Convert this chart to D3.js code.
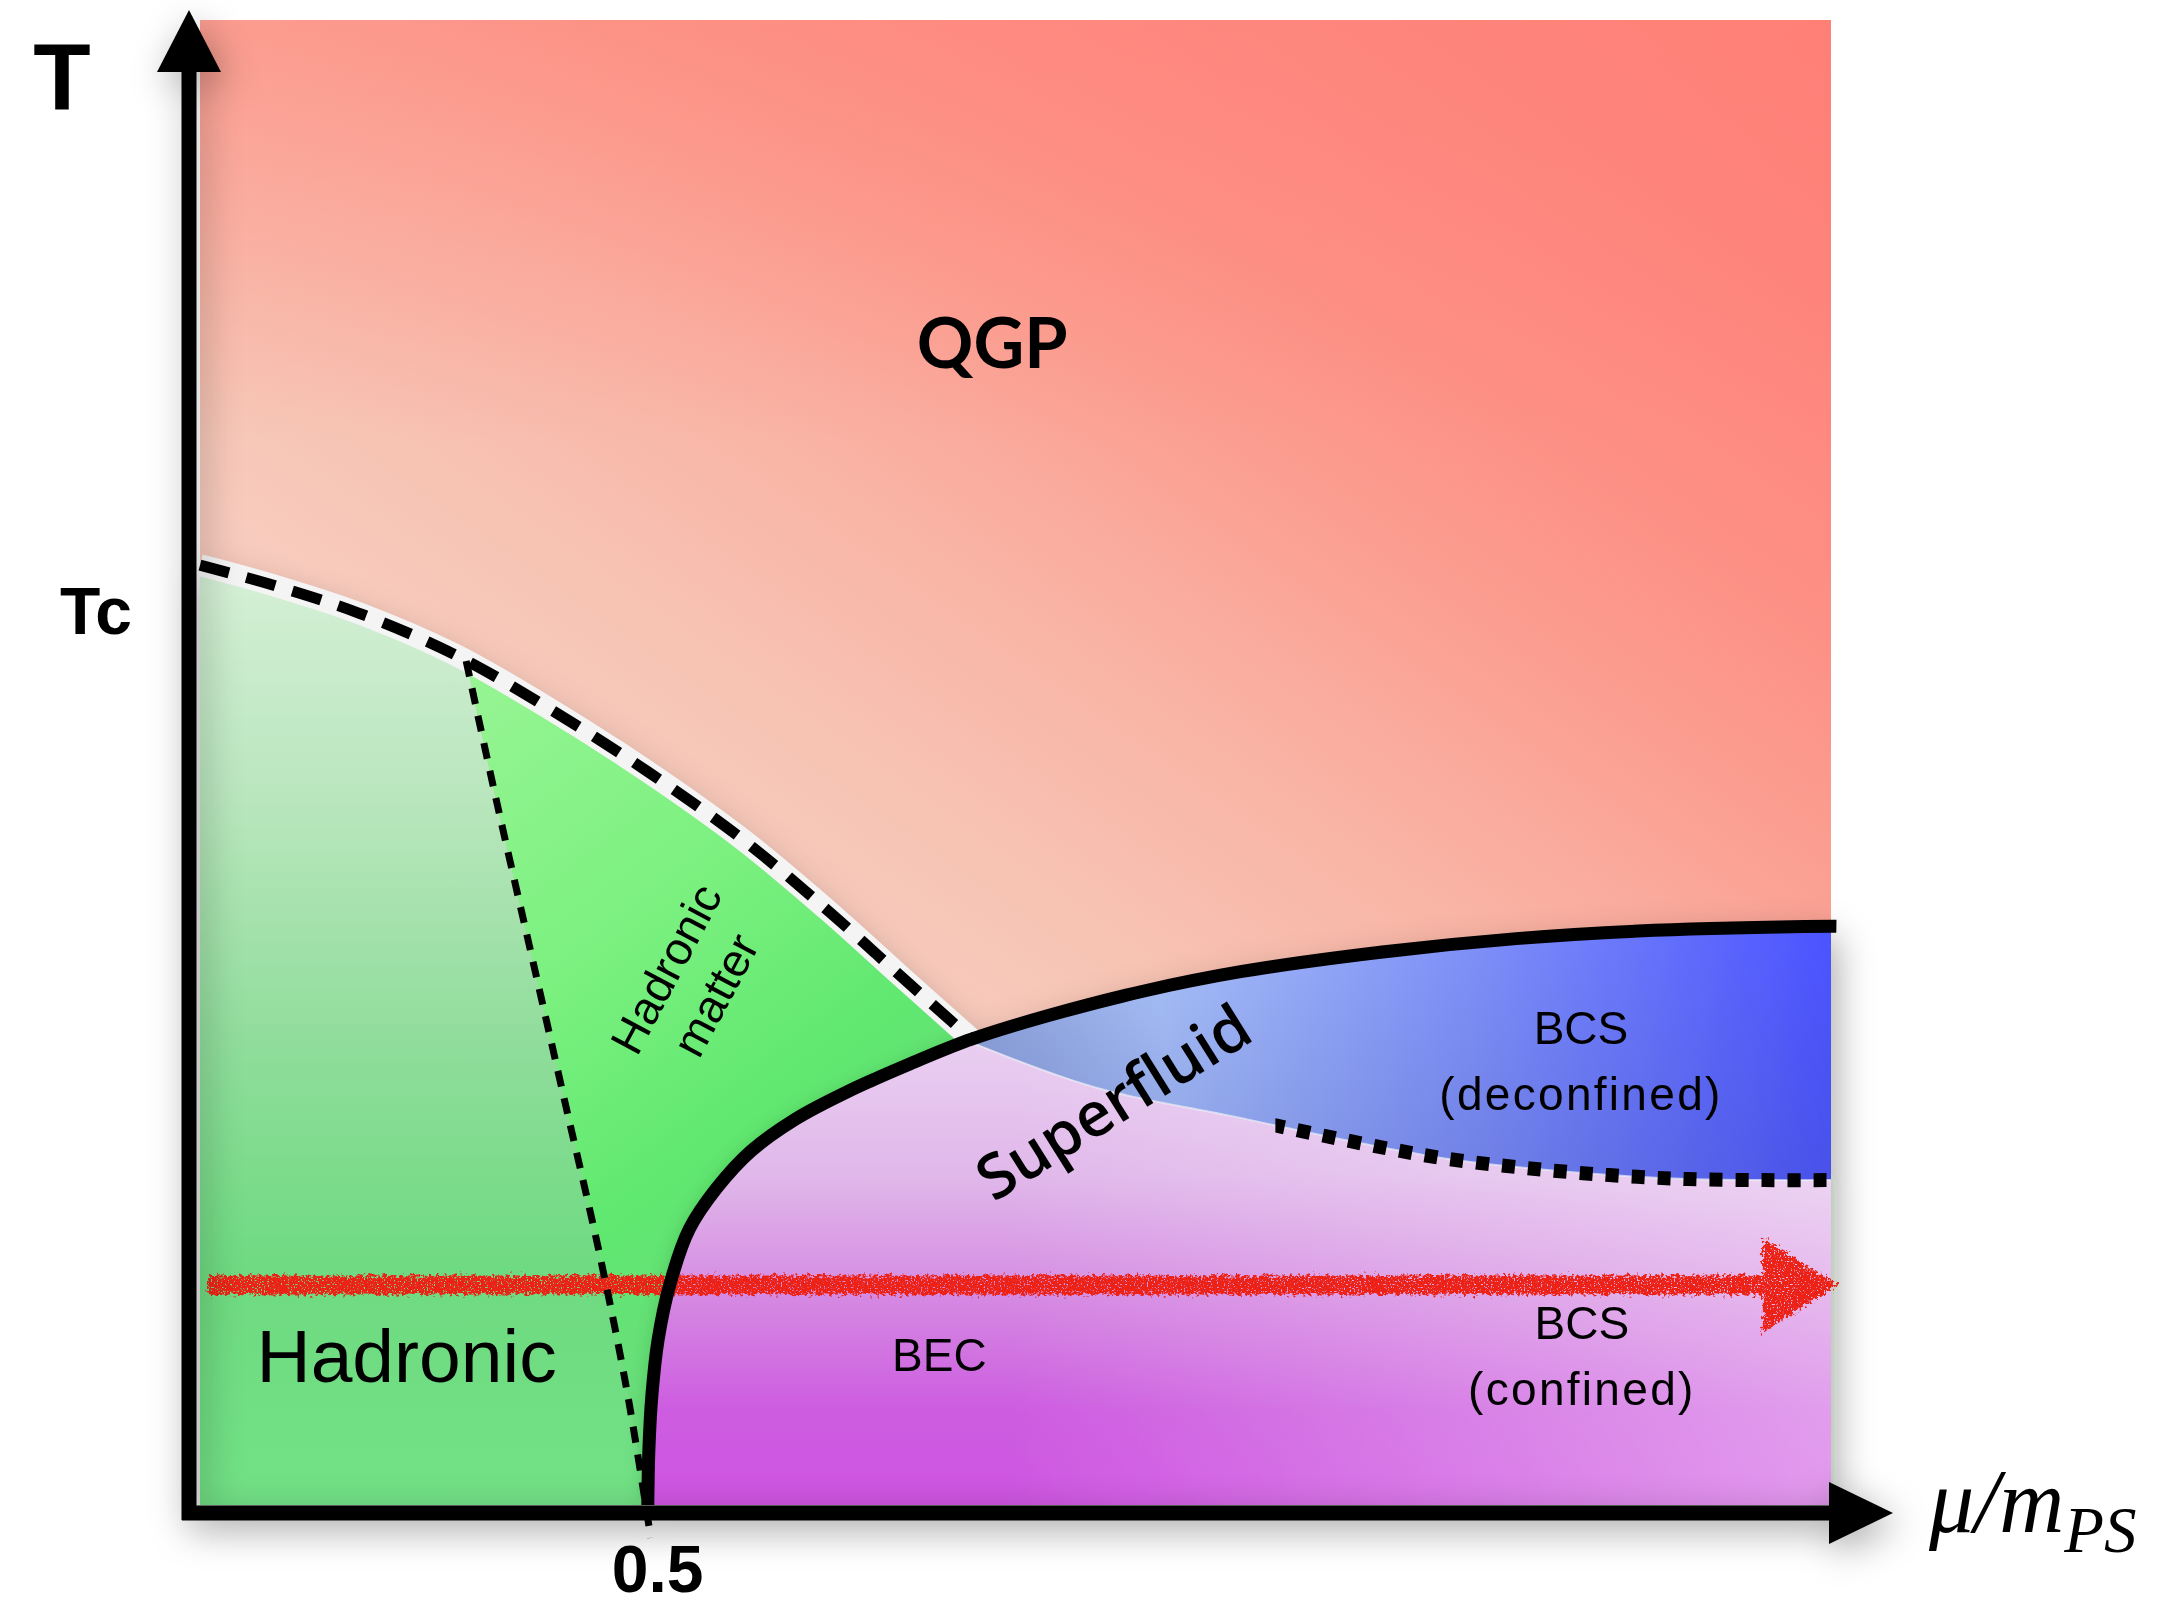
<!DOCTYPE html>
<html>
<head>
<meta charset="utf-8">
<title>Phase diagram – two-colour QCD</title>
<script src="https://cdn.jsdelivr.net/npm/d3@7"></script>
<style>
  html, body { margin: 0; padding: 0; background: #ffffff; }
  svg { display: block; }
</style>
</head>
<body>
<svg id="chart" width="2161" height="1605"></svg>
<script>
// ---- phase boundaries, in units of (mu / m_PS, T / Tc) ----
const crossoverLine = [[0, 1.0], [0.084, 0.978], [0.177, 0.949], [0.284, 0.905], [0.392, 0.846],
  [0.5, 0.78], [0.607, 0.707], [0.7, 0.633], [0.777, 0.567], [0.861, 0.4956]];
const onsetBranch = [[0.4997, 0], [0.5009, 0.0586], [0.5043, 0.1173], [0.5112, 0.1759],
  [0.5243, 0.2346], [0.5458, 0.2932], [0.5766, 0.3372], [0.6151, 0.3768], [0.6643, 0.4105],
  [0.7227, 0.4399], [0.792, 0.4692], [0.861, 0.4956]];
const upperBranch = [[0.861, 0.4956], [0.9458, 0.5205], [1.0535, 0.5469], [1.1611, 0.5674],
  [1.3149, 0.5879], [1.4688, 0.6026], [1.6226, 0.6114], [1.82, 0.6158]];
const deconfinementLine = [[0.861, 0.492], [1.0, 0.444], [1.15, 0.414], [1.30, 0.384], [1.387, 0.369],
  [1.48, 0.3585], [1.5725, 0.351], [1.66, 0.3468], [1.7455, 0.3457], [1.82, 0.3457]];
const hadronDivide = [[0.297, 0.898], [0.3305, 0.7506], [0.369, 0.589], [0.4074, 0.428],
  [0.4459, 0.2668], [0.4767, 0.12], [0.503, -0.035]];
const scanPath = [[0.009, 0.234], [1.828, 0.234]];
const dottedFrom = 1.2;

// axis ticks
const tickValuesX = [0.5];
const tickLabelsX = ["0.5"];
const tickValuesY = [1];
const tickLabelsY = ["Tc"];

// phase names
const phaseNames = {
  qgp: ["QGP"],
  hadronic: ["Hadronic"],
  hadronicMatter: ["Hadronic", "matter"],
  superfluid: ["Superfluid"],
  bcsDeconfined: ["BCS", "(deconfined)"],
  bec: ["BEC"],
  bcsConfined: ["BCS", "(confined)"]
};

const muMax = 1.82, tMax = 1.58;
const svg = d3.select("#chart");
const x = d3.scaleLinear().domain([0, muMax]).range([200, 1831]);
const y = d3.scaleLinear().domain([0, tMax]).range([1505, 20]);

const smooth = d3.line().x(d => x(d[0])).y(d => y(d[1])).curve(d3.curveCatmullRom.alpha(0.5));
const straight = d3.line().x(d => x(d[0])).y(d => y(d[1]));
// closed outline from smooth curves ({c: pts}) and polylines ({s: pts})
function region(...parts) {
  return parts.map((p, i) => {
    const s = p.c ? smooth(p.c) : straight(p.s);
    return i === 0 ? s : s.replace(/^M/, "L");
  }).join("") + "Z";
}

// ---------- defs ----------
const defs = svg.append("defs");
function linGrad(id, x1, y1, x2, y2, stops) {
  const g = defs.append("linearGradient").attr("id", id).attr("gradientUnits", "userSpaceOnUse")
    .attr("x1", x1).attr("y1", y1).attr("x2", x2).attr("y2", y2);
  stops.forEach(([o, c, a]) => g.append("stop").attr("offset", o).attr("stop-color", c)
    .attr("stop-opacity", a === undefined ? 1 : a));
}

// QGP: light peach along the transition, salmon red toward the upper right
linGrad("gQGP", 827, 937, 1589, -150, [[0, "#f7cbbd"], [0.12, "#f7c3b3"], [0.30, "#f9b3a4"],
  [0.48, "#fb9e91"], [0.62, "#fd9086"], [1, "#ff7a72"]]);
linGrad("gQGPtop", 0, y(tMax), 0, 440, [[0, "#ff857b", 0.5], [1, "#ff857b", 0]]);
linGrad("gHadL", 0, y(1), 0, y(0), [[0, "#d6f0d7"], [0.25, "#b9e6bd"], [0.5, "#91dd9c"], [0.75, "#6eda81"], [1, "#72e185"]]);
linGrad("gHadR", x(0.3), y(0.9), x(0.78), y(0.3), [[0, "#98f594"], [0.45, "#7af07f"], [0.75, "#60e870"], [1, "#6adc7b"]]);
linGrad("gSF", 0, y(0.5), 0, y(0), [[0, "#eacff1"], [0.3, "#e0b8ea"], [0.55, "#d58ae2"], [0.8, "#cd5ce0"], [1, "#cf55e2"]]);
linGrad("gSFlight", x(0.9), 0, x(muMax), 0, [[0, "#ffffff", 0], [1, "#ffffff", 0.4]]);
linGrad("gBCS", x(0.86), y(0.5), x(muMax), y(0.62), [[0, "#8ea3d8"], [0.22, "#a8c0f7"], [0.6, "#7d8ef8"], [1, "#4b53ff"]]);
linGrad("gBCSshade", 0, y(0.6), 0, y(0.35), [[0, "#28329a", 0], [1, "#28329a", 0.2]]);

const shadow = defs.append("filter").attr("id", "shadow")
  .attr("x", "-10%").attr("y", "-10%").attr("width", "125%").attr("height", "125%");
shadow.append("feDropShadow").attr("dx", 6).attr("dy", 10).attr("stdDeviation", 18)
  .attr("flood-color", "#000").attr("flood-opacity", 0.33);
const softEdge = defs.append("filter").attr("id", "softEdge")
  .attr("x", "-10%").attr("y", "-10%").attr("width", "125%").attr("height", "125%");
softEdge.append("feDropShadow").attr("dx", -6).attr("dy", -2).attr("stdDeviation", 8)
  .attr("flood-color", "#1c6a2c").attr("flood-opacity", 0.22);

// hand-drawn, grainy marker stroke
const rough = defs.append("filter").attr("id", "rough").attr("filterUnits", "userSpaceOnUse")
  .attr("x", x(0) - 40).attr("y", y(0.234) - 90).attr("width", x(muMax) - x(0) + 140).attr("height", 180);
rough.append("feTurbulence").attr("type", "fractalNoise").attr("baseFrequency", 0.3)
  .attr("numOctaves", 2).attr("seed", 4).attr("result", "noise");
rough.append("feDisplacementMap").attr("in", "SourceGraphic").attr("in2", "noise").attr("scale", 12)
  .attr("xChannelSelector", "R").attr("yChannelSelector", "G").attr("result", "shaky");
rough.append("feTurbulence").attr("type", "fractalNoise").attr("baseFrequency", 0.7)
  .attr("numOctaves", 1).attr("seed", 9).attr("result", "speck");
rough.append("feColorMatrix").attr("in", "speck").attr("type", "matrix")
  .attr("values", "0 0 0 0 0  0 0 0 0 0  0 0 0 0 0  0 0 0 -10 7.0").attr("result", "mask");
rough.append("feComposite").attr("in", "shaky").attr("in2", "mask").attr("operator", "in");

defs.append("clipPath").attr("id", "clipDotted").append("rect")
  .attr("x", x(dottedFrom)).attr("y", 0).attr("width", 2161).attr("height", 1605);

// ---------- regions ----------
const qgpBox = { x: x(0), y: y(tMax), width: x(muMax) - x(0), height: y(0) - y(tMax) };
svg.append("rect").attr("x", qgpBox.x).attr("y", qgpBox.y).attr("width", qgpBox.width)
  .attr("height", qgpBox.height).attr("fill", "url(#gQGP)");
svg.append("rect").attr("x", qgpBox.x).attr("y", qgpBox.y).attr("width", qgpBox.width)
  .attr("height", qgpBox.height).attr("fill", "url(#gQGPtop)");

const divideStart = hadronDivide[0];
const divideInPlot = hadronDivide.filter(d => d[1] >= 0).concat([[0.4995, 0]]);
const lastDeconf = deconfinementLine[deconfinementLine.length - 1];
const lastUpper = upperBranch[upperBranch.length - 1];
const lower = svg.append("g").attr("filter", "url(#shadow)");

lower.append("path").attr("fill", "url(#gHadL)")
  .attr("d", region({ s: [[0, 0], [0, 1]] },
    { c: [...crossoverLine.filter(d => d[0] < divideStart[0]), divideStart] },
    { c: divideInPlot }));
lower.append("path").attr("fill", "url(#gHadR)")
  .attr("d", region({ c: [divideStart, ...crossoverLine.filter(d => d[0] > divideStart[0])] },
    { c: onsetBranch.slice().reverse() },
    { c: divideInPlot.slice().reverse() }));
const sfPath = region({ c: onsetBranch }, { c: deconfinementLine },
  { s: [lastDeconf, [muMax, 0], onsetBranch[0]] });
const sfGroup = lower.append("g").attr("filter", "url(#softEdge)");
sfGroup.append("path").attr("fill", "url(#gSF)").attr("d", sfPath);
sfGroup.append("path").attr("fill", "url(#gSFlight)").attr("d", sfPath);
const bcsPath = region({ c: upperBranch }, { s: [lastUpper, lastDeconf] },
  { c: deconfinementLine.slice().reverse() });
lower.append("path").attr("fill", "url(#gBCS)").attr("d", bcsPath);
lower.append("path").attr("fill", "url(#gBCSshade)").attr("d", bcsPath);

// ---------- scan along fixed temperature ----------
const scan = svg.append("g").attr("filter", "url(#rough)").attr("fill", "#ec2214");
const headLen = 0.084, headHalf = 0.05;
const [s0, s1] = scanPath;
scan.append("path").attr("fill", "none").attr("stroke", "#ec2214").attr("stroke-width", 19)
  .attr("d", straight([s0, [s1[0] - headLen + 0.01, s1[1]]]));
scan.append("path").attr("d", straight([
  [s1[0] - headLen, s1[1] + headHalf], s1, [s1[0] - headLen, s1[1] - headHalf]]) + "Z");

// ---------- boundary lines ----------
const lines = svg.append("g").attr("fill", "none");
lines.append("path").attr("d", smooth(crossoverLine))
  .attr("stroke", "#f4f4f4").attr("stroke-width", 22);
lines.append("path").attr("d", smooth(crossoverLine))
  .attr("stroke", "#000").attr("stroke-width", 11).attr("stroke-dasharray", "30 18");
lines.append("path").attr("d", smooth(hadronDivide))
  .attr("stroke", "#000").attr("stroke-width", 7).attr("stroke-dasharray", "16 12");
lines.append("path").attr("d", smooth(deconfinementLine))
  .attr("stroke", "#eef0f8").attr("stroke-width", 2).attr("stroke-opacity", 0.7);
lines.append("path").attr("d", smooth(deconfinementLine)).attr("clip-path", "url(#clipDotted)")
  .attr("stroke", "#000").attr("stroke-width", 14).attr("stroke-dasharray", "13 13");
lines.append("path").attr("stroke", "#000").attr("stroke-width", 13)
  .attr("d", smooth(onsetBranch.concat(upperBranch.slice(1), [[muMax + 0.006, lastUpper[1]]])));

// ---------- axes ----------
const ax = svg.append("g").attr("filter", "url(#shadow)");
const axX = x(0) - 11, axY = y(0) + 8;
ax.append("line").attr("x1", axX).attr("x2", axX).attr("y1", axY + 7).attr("y2", 66)
  .attr("stroke", "#000").attr("stroke-width", 15);
ax.append("path").attr("fill", "#000")
  .attr("d", `M${axX},10L${axX - 32},72L${axX + 32},72Z`);
ax.append("line").attr("x1", axX - 7).attr("x2", x(muMax) + 4).attr("y1", axY).attr("y2", axY)
  .attr("stroke", "#000").attr("stroke-width", 15);
ax.append("path").attr("fill", "#000")
  .attr("d", `M${x(muMax) + 62},${axY}L${x(muMax) - 2},${axY - 31}L${x(muMax) - 2},${axY + 31}Z`);

const tickFont = "'Liberation Sans', Arial, Helvetica, sans-serif";
const gx = svg.append("g").attr("transform", `translate(0,${y(0)})`)
  .call(d3.axisBottom(x).tickValues(tickValuesX).tickFormat((d, i) => tickLabelsX[i]).tickSize(0).tickPadding(40));
const gy = svg.append("g").attr("transform", `translate(${x(0)},0)`)
  .call(d3.axisLeft(y).tickValues(tickValuesY).tickFormat((d, i) => tickLabelsY[i]).tickSize(0).tickPadding(68));
[gx, gy].forEach(g => {
  g.select(".domain").remove();
  g.selectAll("text").attr("fill", "#000").attr("font-family", tickFont)
    .attr("font-weight", "bold").attr("font-size", 66);
});
gx.selectAll("text").attr("dx", 9);
gy.selectAll("text").attr("dy", 47 + 0.32 * 66);

svg.append("text").attr("x", 62).attr("y", 110).attr("text-anchor", "middle")
  .attr("font-family", tickFont).attr("font-weight", "bold").attr("font-size", 94).text("T");

const axisTitle = svg.append("text").attr("x", 1929).attr("y", 1532)
  .attr("font-family", "'Liberation Serif', 'Times New Roman', serif").attr("font-style", "italic")
  .attr("font-size", 90).attr("fill", "#000");
axisTitle.append("tspan").text("μ/m");
axisTitle.append("tspan").attr("font-size", 65).attr("dy", 20).text("PS");

// ---------- phase labels ----------
const labelFont = "'Liberation Sans', Arial, Helvetica, sans-serif";
const roundFont = "Lato, 'Open Sans', sans-serif";
function label(lines, mu, T, opt) {
  const g = svg.append("g")
    .attr("transform", `translate(${x(mu)},${y(T)}) rotate(${opt.rotate || 0})`);
  const lh = opt.lineHeight || opt.size * 1.2;
  const top = -(lines.length - 1) * lh / 2;
  lines.forEach((t, i) => g.append("text")
    .attr("x", 0).attr("y", top + i * lh + opt.size * 0.36)
    .attr("text-anchor", "middle").attr("fill", "#000")
    .attr("font-family", opt.font).attr("font-weight", opt.weight || "normal")
    .attr("letter-spacing", i > 0 && opt.spacing ? opt.spacing : null)
    .attr("font-size", opt.size).text(t));
}
label(phaseNames.qgp, 0.884, 1.237, { font: roundFont, weight: 700, size: 70 });
label(phaseNames.hadronic, 0.2305, 0.16, { font: labelFont, size: 75 });
label(phaseNames.hadronicMatter, 0.547, 0.557, { font: labelFont, size: 46, lineHeight: 56, rotate: -62 });
label(phaseNames.superfluid, 1.019, 0.429, { font: "'Open Sans', Lato, sans-serif", weight: 600, size: 62, rotate: -32 });
label(phaseNames.bcsDeconfined, 1.541, 0.473, { font: labelFont, size: 46, lineHeight: 66, spacing: 2.3 });
label(phaseNames.bec, 0.825, 0.16, { font: labelFont, size: 46 });
label(phaseNames.bcsConfined, 1.542, 0.159, { font: labelFont, size: 46, lineHeight: 66, spacing: 2.3 });
</script>
</body>
</html>
